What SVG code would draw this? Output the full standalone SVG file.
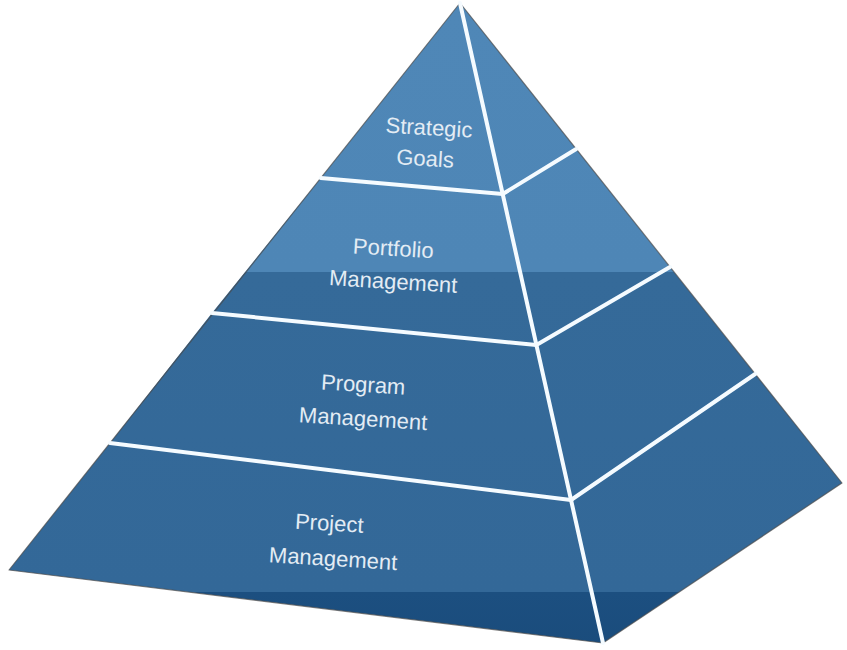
<svg xmlns="http://www.w3.org/2000/svg" width="847" height="650" viewBox="0 0 847 650">
  <defs>
    <linearGradient id="fillGrad" gradientUnits="userSpaceOnUse" x1="0" y1="0" x2="0" y2="650">
      <stop offset="0" stop-color="#4f87b7"/>
      <stop offset="0.418" stop-color="#4e86b6"/>
      <stop offset="0.419" stop-color="#356a99"/>
      <stop offset="0.91" stop-color="#336898"/>
      <stop offset="0.911" stop-color="#1c4f80"/>
      <stop offset="1" stop-color="#1a4c7c"/>
    </linearGradient>
  </defs>
  <style>
    .face { fill: url(#fillGrad); stroke: none; }
    .outline { fill: none; stroke: #4a4a4a; stroke-opacity: 0.7; stroke-width: 1.2; stroke-linejoin: round; }
    .divider { fill: none; stroke: #f5fbff; stroke-width: 4; stroke-linecap: round; stroke-linejoin: round; }
    .label { font-family: "Liberation Sans", Arial, sans-serif; font-size: 22px; fill: #e3ecf4; text-anchor: middle; }
  </style>
  <rect width="847" height="650" fill="#ffffff"/>

  <g id="level-strategic-goals">
    <polygon class="face" points="460,3 320.8,178 502.7,194 576.2,149"/>
    <text class="label" transform="rotate(3.5 426 145)"><tspan x="428" y="135">Strategic</tspan><tspan x="426" y="166">Goals</tspan></text>
  </g>

  <g id="level-portfolio-management">
    <polygon class="face" points="320.8,178 212,313 536.4,345 670,267 576.2,149 502.7,194"/>
    <text class="label" transform="rotate(3.5 394 270)"><tspan x="392" y="256">Portfolio</tspan><tspan x="394" y="289">Management</tspan></text>
  </g>

  <g id="level-program-management">
    <polygon class="face" points="212,313 110,443 571,500 755.2,374 670,267 536.4,345"/>
    <text class="label" transform="rotate(3.5 362 405)"><tspan x="362" y="392">Program</tspan><tspan x="364" y="426">Management</tspan></text>
  </g>

  <g id="level-project-management">
    <polygon class="face" points="110,443 9,570 603,643 842,483 755.2,374 571,500"/>
    <text class="label" transform="rotate(3.5 332 545)"><tspan x="328" y="531">Project</tspan><tspan x="334" y="566">Management</tspan></text>
  </g>

  <g id="connectors">
    <polygon class="outline" points="460,3 9,570 603,643 842,483"/>
    <polyline class="divider" points="460,3 603,643"/>
    <polyline class="divider" points="320.8,178 502.7,194 576.2,149"/>
    <polyline class="divider" points="212,313 536.4,345 670,267"/>
    <polyline class="divider" points="110,443 571,500 755.2,374"/>
  </g>
</svg>
